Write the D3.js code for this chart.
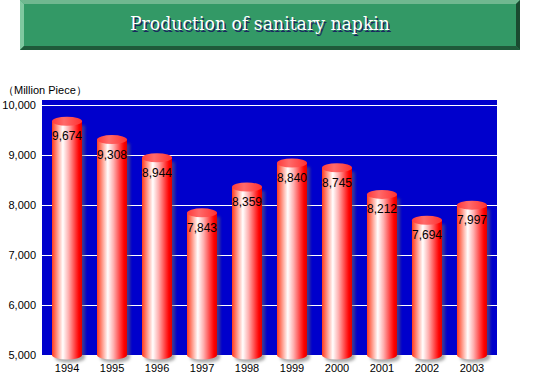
<!DOCTYPE html>
<html><head><meta charset="utf-8">
<script src="https://cdn.jsdelivr.net/npm/d3@7"></script>
<style>html,body{margin:0;padding:0;background:#fff;}svg{display:block;}</style>
</head><body>
<script>
const years = ["1994","1995","1996","1997","1998","1999","2000","2001","2002","2003"];
const values = [9674, 9308, 8944, 7843, 8359, 8840, 8745, 8212, 7694, 7997];
const yTicks = [5000, 6000, 7000, 8000, 9000, 10000];
const title = "Production of sanitary napkin";
const unitLabel = "（Million Piece）";

const W = 540, H = 380;
const svg = d3.select("body").append("svg").attr("width", W).attr("height", H);
const defs = svg.append("defs");

// gradients
const bg = defs.append("linearGradient").attr("id","barGrad").attr("x1","0").attr("x2","1").attr("y1","0").attr("y2","0");
[["0%","#ff3b1c"],["12%","#ff7a66"],["36%","#ffffff"],["55%","#ffb0b0"],["80%","#ff3030"],["90%","#ff0000"],["100%","#e00000"]]
  .forEach(([o,c])=>bg.append("stop").attr("offset",o).attr("stop-color",c));
const tg = defs.append("linearGradient").attr("id","capGrad").attr("x1","0").attr("x2","1").attr("y1","0").attr("y2","0");
[["0%","#ff3a3a"],["40%","#ff6a6a"],["100%","#ff3030"]]
  .forEach(([o,c])=>tg.append("stop").attr("offset",o).attr("stop-color",c));
const blur = defs.append("filter").attr("id","shadow").attr("x","-50%").attr("y","-50%").attr("width","200%").attr("height","200%");
blur.append("feGaussianBlur").attr("stdDeviation",1.5);

// Title box
const tb = {x:20, y:0, w:500, h:50, b:4};
svg.append("rect").attr("x",tb.x).attr("y",tb.y).attr("width",tb.w).attr("height",tb.h).attr("fill","#339966");
svg.append("polygon").attr("points",[[tb.x,tb.y],[tb.x+tb.w,tb.y],[tb.x+tb.w-tb.b,tb.y+tb.b],[tb.x+tb.b,tb.y+tb.b]].join(" ")).attr("fill","#70b890");
svg.append("polygon").attr("points",[[tb.x,tb.y],[tb.x+tb.b,tb.y+tb.b],[tb.x+tb.b,tb.y+tb.h-tb.b],[tb.x,tb.y+tb.h]].join(" ")).attr("fill","#80c8a0");
svg.append("polygon").attr("points",[[tb.x,tb.y+tb.h],[tb.x+tb.b,tb.y+tb.h-tb.b],[tb.x+tb.w-tb.b,tb.y+tb.h-tb.b],[tb.x+tb.w,tb.y+tb.h]].join(" ")).attr("fill","#1f5a3a");
svg.append("polygon").attr("points",[[tb.x+tb.w,tb.y],[tb.x+tb.w,tb.y+tb.h],[tb.x+tb.w-tb.b,tb.y+tb.h-tb.b],[tb.x+tb.w-tb.b,tb.y+tb.b]].join(" ")).attr("fill","#1a4a30");
svg.append("text").attr("x",261.5).attr("y",31.5).attr("text-anchor","middle")
  .attr("font-family","DejaVu Serif").attr("font-size",18).attr("fill","#1a2a60")
  .attr("textLength",260).attr("lengthAdjust","spacingAndGlyphs").text(title);
svg.append("text").attr("x",260).attr("y",30).attr("text-anchor","middle")
  .attr("font-family","DejaVu Serif").attr("font-size",18).attr("fill","#ffffff")
  .attr("textLength",260).attr("lengthAdjust","spacingAndGlyphs").text(title);

// Plot
const plot = {left:42, right:497, top:100, bottom:355};
const y = d3.scaleLinear().domain([5000,10000]).range([355,105]);
const x = d3.scaleBand().domain(years).range([44.5,494.5]).paddingInner(0.333).paddingOuter(0.167);

svg.append("rect").attr("x",plot.left).attr("y",plot.top).attr("width",plot.right-plot.left).attr("height",plot.bottom-plot.top).attr("fill","#0000cc");
svg.append("g").selectAll("line").data(yTicks.filter(t=>t>5000)).join("line")
  .attr("x1",plot.left).attr("x2",plot.right).attr("y1",d=>y(d)).attr("y2",d=>y(d))
  .attr("stroke","#ffffff").attr("stroke-width",1).attr("shape-rendering","crispEdges");

// y axis labels
const yAxis = d3.axisLeft(y).tickValues(yTicks).tickSize(0).tickPadding(0).tickFormat(d3.format(","));
const ya = svg.append("g").attr("transform","translate(36,0)").call(yAxis);
ya.select(".domain").remove();
ya.selectAll("text").attr("font-family","Liberation Sans, Arial, sans-serif").attr("font-size",11).attr("fill","#000");

svg.append("text").attr("x",3).attr("y",94).attr("font-family","Liberation Sans, Arial, sans-serif").attr("font-size",11).attr("fill","#000").text(unitLabel);

// x axis labels
const xAxis = d3.axisBottom(x).tickSize(0).tickPadding(0);
const xa = svg.append("g").attr("transform","translate(0,364)").call(xAxis);
xa.select(".domain").remove();
xa.selectAll("text").attr("font-family","Liberation Sans, Arial, sans-serif").attr("font-size",11).attr("fill","#000").attr("dy","0.71em");

// bars
const ry = 4.5;
const bw = x.bandwidth();
const data = years.map((yr,i)=>({yr, v:values[i]}));
const bars = svg.append("g").selectAll("g").data(data).join("g");
// shadow
bars.append("path").attr("filter","url(#shadow)").attr("fill","#666").attr("opacity",0.55)
  .attr("d",d=>{const x0=x(d.yr)+3, x1=x0+bw, yt=y(d.v)+4, yb=355+3;
    return `M${x0},${yt} L${x1},${yt} L${x1},${yb} A${bw/2},${ry} 0 0 1 ${x0},${yb} Z`;});
bars.append("path").attr("fill","url(#barGrad)")
  .attr("d",d=>{const x0=x(d.yr), x1=x0+bw, yt=y(d.v), yb=355;
    return `M${x0},${yt} L${x1},${yt} L${x1},${yb} A${bw/2},${ry} 0 0 1 ${x0},${yb} Z`;});
bars.append("ellipse").attr("cx",d=>x(d.yr)+bw/2).attr("cy",d=>y(d.v)).attr("rx",bw/2).attr("ry",ry)
  .attr("fill","url(#capGrad)");
bars.append("text").attr("x",d=>x(d.yr)+bw/2).attr("y",d=>y(d.v)+19).attr("text-anchor","middle")
  .attr("font-family","Liberation Sans, Arial, sans-serif").attr("font-size",12).attr("fill","#000")
  .text(d=>d3.format(",")(d.v));
</script>
</body></html>
